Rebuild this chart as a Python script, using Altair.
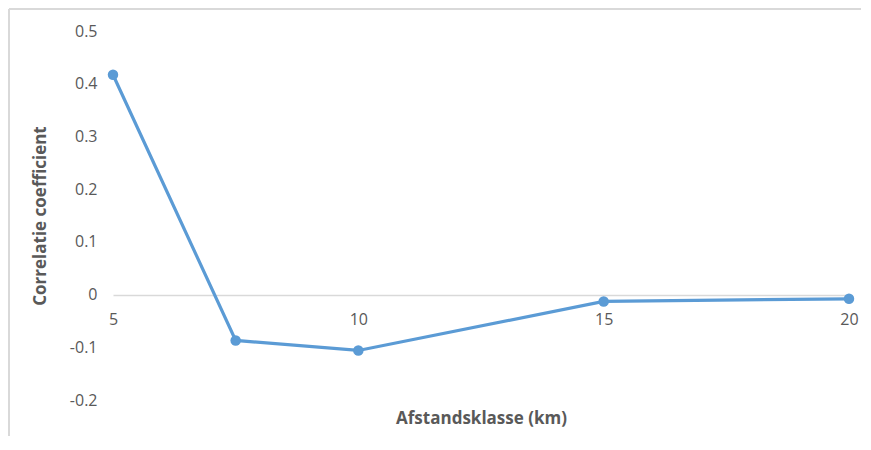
import altair as alt
import pandas as pd

afstand = [5, 7.5, 10, 15, 20]
correlatie = [0.417, -0.087, -0.106, -0.013, -0.008]
x_ticks = [5, 10, 15, 20]
y_ticks = [-0.2, -0.1, 0, 0.1, 0.2, 0.3, 0.4, 0.5]

df = pd.DataFrame({"afstand": afstand, "correlatie": correlatie})

W, H = 736, 369
PAD_L, PAD_T, PAD_R, PAD_B = 105, 23, 14, 36
FONT = "Open Sans"
GREY = "#595959"
BLUE = "#5B9BD5"

x_enc = alt.X(
    "afstand:Q",
    scale=alt.Scale(domain=[5, 20], nice=False, zero=False),
    axis=alt.Axis(
        values=x_ticks,
        format="d",
        offset=-105,
        domainColor="#d9d9d9",
        domainWidth=1.3,
        ticks=False,
        grid=False,
        labelFlush=False,
        labelPadding=16,
        labelFont=FONT,
        labelFontSize=16,
        labelColor=GREY,
        title="Afstandsklasse (km)",
        titleFont=FONT,
        titleFontSize=17,
        titleFontWeight="bold",
        titleColor=GREY,
        titlePadding=83,
    ),
)
y_enc = alt.Y(
    "correlatie:Q",
    scale=alt.Scale(domain=[-0.2, 0.5], nice=False, zero=False),
    axis=alt.Axis(
        values=y_ticks,
        labelExpr="datum.value < 0 ? '-' + format(-datum.value, '~g') : format(datum.value, '~g')",
        domain=False,
        ticks=False,
        grid=False,
        labelFlush=False,
        labelPadding=16,
        labelFont=FONT,
        labelFontSize=16,
        labelColor=GREY,
        title="Correlatie coefficient",
        titleFont=FONT,
        titleFontSize=17,
        titleFontWeight="bold",
        titleColor=GREY,
        titlePadding=20,
    ),
)

line = alt.Chart(df).mark_line(color=BLUE, strokeWidth=3.2).encode(x=x_enc, y=y_enc)
points = alt.Chart(df).mark_point(filled=True, color=BLUE, size=110, opacity=1).encode(
    x="afstand:Q", y="correlatie:Q"
)
frame_top = alt.Chart(df).mark_rule(color="#d9d9d9", strokeWidth=2).encode(
    x=alt.value(-PAD_L + 1),
    x2=alt.value(W + PAD_R - 2),
    y=alt.value(-PAD_T + 1),
)
frame_left = alt.Chart(df).mark_rule(color="#d9d9d9", strokeWidth=2).encode(
    x=alt.value(-PAD_L + 1),
    y=alt.value(-PAD_T + 1),
    y2=alt.value(H + PAD_B),
)

chart = (
    alt.layer(frame_top, frame_left, line, points)
    .properties(
        width=W,
        height=H,
        background="white",
        autosize=alt.AutoSizeParams(type="none"),
        padding={"left": PAD_L, "top": PAD_T, "right": PAD_R, "bottom": PAD_B},
    )
    .configure_view(strokeWidth=0)
)

chart.save("out.html", embed_options={"renderer": "svg", "actions": False})
